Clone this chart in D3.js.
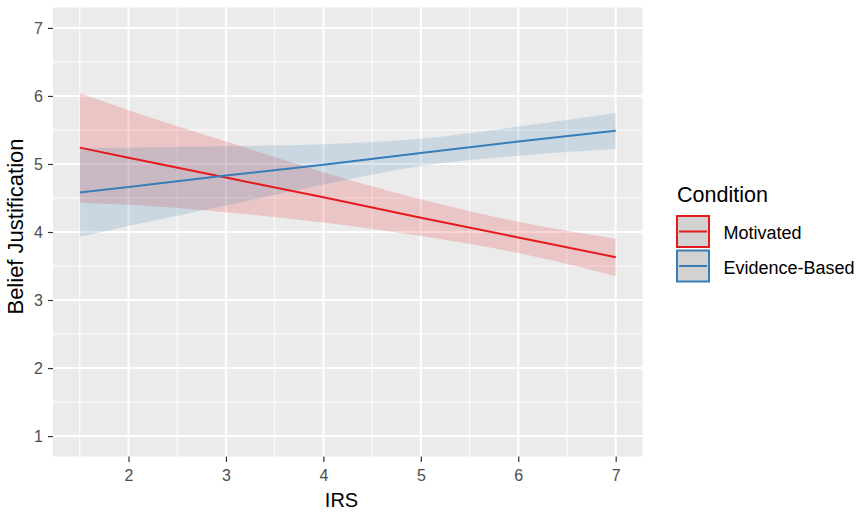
<!DOCTYPE html>
<html>
<head>
<meta charset="utf-8">
<script src="https://cdn.jsdelivr.net/npm/d3@7"></script>
<style>
  body { margin: 0; background: #fff; }
  svg { display: block; font-family: "Liberation Sans", Arial, sans-serif; }
</style>
</head>
<body>
<svg id="chart" width="859" height="514"></svg>
<script>
// values
const irs = [1.5, 2, 3, 4, 5, 6, 7];
const motivatedFit = [5.24, 5.09, 4.8, 4.51, 4.21, 3.92, 3.63];
const motivatedLo = [4.43, 4.4, 4.29, 4.14, 3.94, 3.69, 3.35];
const motivatedHi = [6.04, 5.79, 5.33, 4.88, 4.48, 4.15, 3.9];
const evidenceFit = [4.58, 4.66, 4.83, 4.99, 5.16, 5.33, 5.49];
const evidenceLo = [3.93, 4.09, 4.39, 4.7, 4.97, 5.12, 5.22];
const evidenceHi = [5.23, 5.24, 5.26, 5.29, 5.37, 5.55, 5.75];

const conditions = ["Motivated", "Evidence-Based"];
const xTicks = [2, 3, 4, 5, 6, 7];
const yTicks = [1, 2, 3, 4, 5, 6, 7];

const series = [
  { name: conditions[0], fit: motivatedFit, lo: motivatedLo, hi: motivatedHi },
  { name: conditions[1], fit: evidenceFit, lo: evidenceLo, hi: evidenceHi }
];

const svg = d3.select("#chart");
const panel = { left: 53, right: 642.5, top: 7.5, bottom: 456.5 };

const color = d3.scaleOrdinal().domain(conditions).range(["#E41A1C", "#377EB8"]);

const x = d3.scaleLinear().domain([1.225, 7.275]).range([panel.left, panel.right]);
const y = d3.scaleLinear().domain([0.7, 7.3]).range([panel.bottom, panel.top]);

// panel background
svg.append("rect")
  .attr("x", panel.left)
  .attr("y", panel.top)
  .attr("width", panel.right - panel.left)
  .attr("height", panel.bottom - panel.top)
  .attr("fill", "#EBEBEB");

// grid
const grid = svg.append("g").attr("stroke", "#fff");
const minorX = d3.range(1.5, 7.5, 1);
const minorY = d3.range(1.5, 7, 1);

grid.selectAll(".mx").data(minorX).join("line")
  .attr("x1", d => x(d)).attr("x2", d => x(d))
  .attr("y1", panel.top).attr("y2", panel.bottom)
  .attr("stroke-width", 1);
grid.selectAll(".my").data(minorY).join("line")
  .attr("y1", d => y(d)).attr("y2", d => y(d))
  .attr("x1", panel.left).attr("x2", panel.right)
  .attr("stroke-width", 1);
grid.selectAll(".gx").data(xTicks).join("line")
  .attr("x1", d => x(d)).attr("x2", d => x(d))
  .attr("y1", panel.top).attr("y2", panel.bottom)
  .attr("stroke-width", 2);
grid.selectAll(".gy").data(yTicks).join("line")
  .attr("y1", d => y(d)).attr("y2", d => y(d))
  .attr("x1", panel.left).attr("x2", panel.right)
  .attr("stroke-width", 2);

// ribbons
const area = d3.area()
  .x(d => x(d.x))
  .y0(d => y(d.lo))
  .y1(d => y(d.hi))
  .curve(d3.curveMonotoneX);

const line = d3.line()
  .x(d => x(d.x))
  .y(d => y(d.fit));

const rows = s => irs.map((v, i) => ({ x: v, fit: s.fit[i], lo: s.lo[i], hi: s.hi[i] }));

svg.append("g")
  .selectAll("path")
  .data(series)
  .join("path")
  .attr("d", d => area(rows(d)))
  .attr("fill", d => color(d.name))
  .attr("fill-opacity", 0.18);

svg.append("g")
  .selectAll("path")
  .data(series)
  .join("path")
  .attr("d", d => line(rows(d)))
  .attr("fill", "none")
  .attr("stroke", d => color(d.name))
  .attr("stroke-width", 2);

// axes
const styleAxis = g => {
  g.attr("font-size", null).attr("font-family", null);
  g.select(".domain").remove();
  g.selectAll(".tick line").attr("stroke", "#333").attr("stroke-width", 1.2);
  g.selectAll(".tick text")
    .attr("fill", "#4D4D4D")
    .style("font-size", "16px");
};

svg.append("g")
  .attr("transform", `translate(0,${panel.bottom})`)
  .call(d3.axisBottom(x).tickValues(xTicks).tickFormat(d3.format("d")).tickSize(5.5).tickPadding(8))
  .call(styleAxis);

svg.append("g")
  .attr("transform", `translate(${panel.left},0)`)
  .call(d3.axisLeft(y).tickValues(yTicks).tickFormat(d3.format("d")).tickSize(5).tickPadding(5))
  .call(styleAxis);

// axis titles
svg.append("text")
  .attr("x", 341.5)
  .attr("y", 506.5)
  .attr("text-anchor", "middle")
  .style("font-size", "20px")
  .text("IRS");

svg.append("text")
  .attr("transform", "translate(22.5,226.5) rotate(-90)")
  .attr("text-anchor", "middle")
  .style("font-size", "22px")
  .text("Belief Justification");

// legend
const legend = svg.append("g").attr("transform", "translate(677,0)");

legend.append("text")
  .attr("x", 0)
  .attr("y", 201.5)
  .style("font-size", "21.5px")
  .text("Condition");

const keys = legend.selectAll(".key")
  .data(conditions)
  .join("g")
  .attr("transform", (d, i) => `translate(0,${216 + i * 34.5})`);

keys.append("rect")
  .attr("width", 32)
  .attr("height", 31)
  .attr("fill", "#D2D2D2")
  .attr("stroke", d => color(d))
  .attr("stroke-width", 2);

keys.append("line")
  .attr("x1", 2).attr("x2", 30)
  .attr("y1", 15.5).attr("y2", 15.5)
  .attr("stroke", d => color(d))
  .attr("stroke-width", 2);

keys.append("text")
  .attr("x", 46.5)
  .attr("y", 23)
  .style("font-size", "18px")
  .text(d => d);
</script>
</body>
</html>
